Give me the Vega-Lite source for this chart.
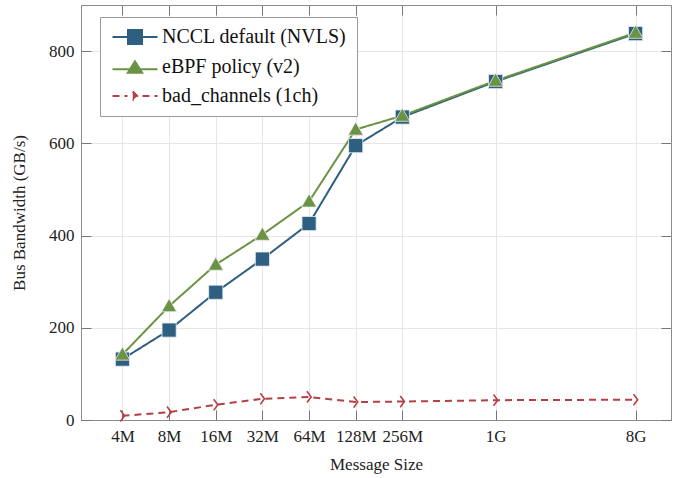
{
  "$schema": "https://vega.github.io/schema/vega-lite/v6.json",
  "width": 590,
  "height": 415,
  "autosize": {"type": "none"},
  "padding": {"left": 81, "top": 5, "right": 7, "bottom": 58},
  "config": {
    "font": "Liberation Serif",
    "view": {"stroke": "#8a8a8a", "strokeWidth": 1},
    "axis": {
      "labelFont": "Liberation Serif",
      "labelFontSize": 17,
      "labelColor": "#222",
      "titleFont": "Liberation Serif",
      "titleFontSize": 17,
      "titleFontWeight": "normal",
      "titleColor": "#222",
      "gridColor": "#e6e6e6",
      "gridWidth": 1,
      "domainColor": "#8a8a8a",
      "tickColor": "#777777",
      "tickSize": -10,
      "tickWidth": 1
    },
    "legend": {
      "labelFont": "Liberation Serif",
      "labelFontSize": 20,
      "labelColor": "#111",
      "labelLimit": 0
    }
  },
  "data": {
    "values": [
      {"size": 4, "series": "NCCL default (NVLS)", "bw": 132},
      {"size": 8, "series": "NCCL default (NVLS)", "bw": 195},
      {"size": 16, "series": "NCCL default (NVLS)", "bw": 277},
      {"size": 32, "series": "NCCL default (NVLS)", "bw": 349},
      {"size": 64, "series": "NCCL default (NVLS)", "bw": 426},
      {"size": 128, "series": "NCCL default (NVLS)", "bw": 595},
      {"size": 256, "series": "NCCL default (NVLS)", "bw": 657},
      {"size": 1024, "series": "NCCL default (NVLS)", "bw": 734},
      {"size": 8192, "series": "NCCL default (NVLS)", "bw": 838},
      {"size": 4, "series": "eBPF policy (v2)", "bw": 142},
      {"size": 8, "series": "eBPF policy (v2)", "bw": 247},
      {"size": 16, "series": "eBPF policy (v2)", "bw": 337},
      {"size": 32, "series": "eBPF policy (v2)", "bw": 402},
      {"size": 64, "series": "eBPF policy (v2)", "bw": 474},
      {"size": 128, "series": "eBPF policy (v2)", "bw": 630},
      {"size": 256, "series": "eBPF policy (v2)", "bw": 660},
      {"size": 1024, "series": "eBPF policy (v2)", "bw": 736},
      {"size": 8192, "series": "eBPF policy (v2)", "bw": 840},
      {"size": 4, "series": "bad_channels (1ch)", "bw": 9},
      {"size": 8, "series": "bad_channels (1ch)", "bw": 17},
      {"size": 16, "series": "bad_channels (1ch)", "bw": 33},
      {"size": 32, "series": "bad_channels (1ch)", "bw": 46},
      {"size": 64, "series": "bad_channels (1ch)", "bw": 50},
      {"size": 128, "series": "bad_channels (1ch)", "bw": 39},
      {"size": 256, "series": "bad_channels (1ch)", "bw": 40},
      {"size": 1024, "series": "bad_channels (1ch)", "bw": 43},
      {"size": 8192, "series": "bad_channels (1ch)", "bw": 44}
    ]
  },
  "layer": [
    {
      "mark": {"type": "line", "strokeWidth": 2},
      "encoding": {
        "x": {
          "field": "size", "type": "quantitative",
          "scale": {"type": "log", "base": 2, "domain": [2.16, 13870], "nice": false},
          "axis": {
            "orient": "bottom",
            "title": "Message Size",
            "values": [4, 8, 16, 32, 64, 128, 256, 1024, 8192],
            "labelExpr": "datum.value >= 1024 ? (datum.value / 1024) + 'G' : datum.value + 'M'",
            "labelPadding": 18,
            "titlePadding": 12,
            "grid": true,
            "labelFlush": false,
            "labelOverlap": false
          }
        },
        "y": {
          "field": "bw", "type": "quantitative",
          "scale": {"domain": [0, 900], "nice": false},
          "axis": {
            "orient": "left",
            "title": "Bus Bandwidth (GB/s)",
            "values": [0, 200, 400, 600, 800],
            "labelPadding": 17,
            "titlePadding": 20,
            "grid": true
          }
        },
        "color": {
          "field": "series", "type": "nominal",
          "scale": {
            "domain": ["NCCL default (NVLS)", "eBPF policy (v2)", "bad_channels (1ch)"],
            "range": ["#2e5f80", "#6b9343", "#b34043"]
          },
          "legend": {
            "title": null,
            "orient": "none",
            "legendX": 19,
            "legendY": 12,
            "fillColor": "white",
            "strokeColor": "#9a9a9a",
            "padding": 10,
            "cornerRadius": 0,
            "symbolSize": 225,
            "symbolStrokeWidth": 2,
            "symbolOffset": 15,
            "labelOffset": 17,
            "labelLimit": 0,
            "rowPadding": 9,
            "encode": {
              "symbols": {
                "update": {
                  "shape": {"signal": "datum.value === 'NCCL default (NVLS)' ? 'M-3,0H-0.93M0.93,0H3M-0.93,-0.93H0.93V0.93H-0.93Z' : datum.value === 'eBPF policy (v2)' ? 'M-3,0.3H3M0,-0.75L0.95,0.75L-0.95,0.75Z' : 'M-3,0H-1M1,0H3M-0.3,-0.6L0.3,0L-0.3,0.6'"},
                  "fill": {"signal": "datum.value === 'bad_channels (1ch)' ? 'transparent' : scale('color', datum.value)"},
                  "strokeDash": {"signal": "datum.value === 'bad_channels (1ch)' ? [7, 8] : [1, 0]"}
                }
              }
            }
          }
        },
        "strokeDash": {
          "field": "series", "type": "nominal",
          "scale": {
            "domain": ["NCCL default (NVLS)", "eBPF policy (v2)", "bad_channels (1ch)"],
            "range": [[1, 0], [1, 0], [7, 5]]
          },
          "legend": null
        }
      }
    },
    {
      "transform": [{"filter": "datum.series !== 'bad_channels (1ch)'"}],
      "mark": {"type": "point", "filled": true, "opacity": 1, "stroke": "#e8eef2", "strokeWidth": 0.8},
      "encoding": {
        "x": {
          "field": "size", "type": "quantitative",
          "axis": {
            "orient": "top", "title": null, "labels": false, "grid": false, "domain": false,
            "values": [4, 8, 16, 32, 64, 128, 256, 1024, 8192]
          }
        },
        "y": {
          "field": "bw", "type": "quantitative",
          "axis": {
            "orient": "right", "title": null, "labels": false, "grid": false, "domain": false,
            "values": [0, 200, 400, 600, 800]
          }
        },
        "color": {"field": "series", "type": "nominal", "legend": null},
        "shape": {
          "field": "series", "type": "nominal",
          "scale": {
            "domain": ["NCCL default (NVLS)", "eBPF policy (v2)"],
            "range": ["M-1,-1H1V1H-1Z", "M0,-1L1,0.75L-1,0.75Z"]
          },
          "legend": null
        },
        "size": {
          "field": "series", "type": "nominal",
          "scale": {
            "domain": ["NCCL default (NVLS)", "eBPF policy (v2)"],
            "range": [200, 225]
          },
          "legend": null
        }
      }
    },
    {
      "transform": [{"filter": "datum.series === 'bad_channels (1ch)'"}],
      "mark": {"type": "point", "filled": false, "opacity": 1, "strokeWidth": 1.6, "size": 196, "shape": "M-0.3,-0.8L0.3,0L-0.3,0.8"},
      "encoding": {
        "x": {"field": "size", "type": "quantitative", "axis": null},
        "y": {"field": "bw", "type": "quantitative", "axis": null},
        "color": {"field": "series", "type": "nominal", "legend": null}
      }
    }
  ],
  "resolve": {"axis": {"x": "independent", "y": "independent"}}
}
